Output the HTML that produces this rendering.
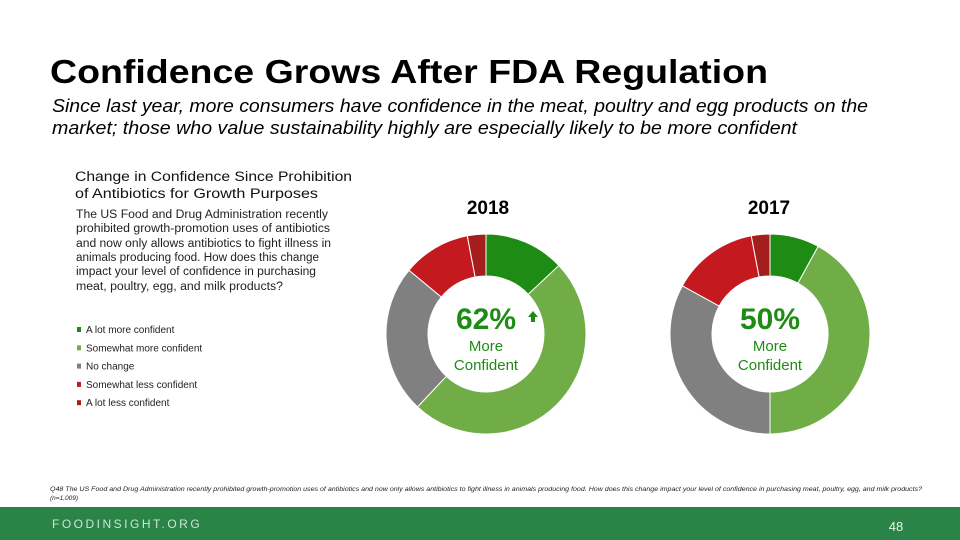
<!DOCTYPE html>
<html><head><meta charset="utf-8"><style>
html,body{margin:0;padding:0;background:#fff}
svg{display:block;font-family:"Liberation Sans",sans-serif}
</style></head><body>
<svg id="chart" width="960" height="540" viewBox="0 0 960 540" xmlns="http://www.w3.org/2000/svg">
<text x="50" y="83" font-size="33" font-weight="bold" fill="#000" textLength="718" lengthAdjust="spacingAndGlyphs">Confidence Grows After FDA Regulation</text>
<text x="52" y="112" font-size="18" font-style="italic" fill="#000" textLength="816" lengthAdjust="spacingAndGlyphs">Since last year, more consumers have confidence in the meat, poultry and egg products on the</text>
<text x="52" y="134" font-size="18" font-style="italic" fill="#000" textLength="745" lengthAdjust="spacingAndGlyphs">market; those who value sustainability highly are especially likely to be more confident</text>

<g>
<text x="75" y="181" font-size="13.5" fill="#111" textLength="277" lengthAdjust="spacingAndGlyphs">Change in Confidence Since Prohibition</text>
<text x="75" y="198" font-size="13.5" fill="#111" textLength="243" lengthAdjust="spacingAndGlyphs">of Antibiotics for Growth Purposes</text>
<g font-size="11.5" fill="#222">
<text x="76" y="218" textLength="252" lengthAdjust="spacingAndGlyphs">The US Food and Drug Administration recently</text>
<text x="76" y="232" textLength="254" lengthAdjust="spacingAndGlyphs">prohibited growth-promotion uses of antibiotics</text>
<text x="76" y="247" textLength="255" lengthAdjust="spacingAndGlyphs">and now only allows antibiotics to fight illness in</text>
<text x="76" y="261" textLength="243" lengthAdjust="spacingAndGlyphs">animals producing food. How does this change</text>
<text x="76" y="275" textLength="240" lengthAdjust="spacingAndGlyphs">impact your level of confidence in purchasing</text>
<text x="76" y="290" textLength="207" lengthAdjust="spacingAndGlyphs">meat, poultry, egg, and milk products?</text>
</g>
</g>
<g id="legend"></g>

<text x="488" y="214" font-size="19" font-weight="bold" text-anchor="middle" fill="#000">2018</text>
<text x="769" y="214" font-size="19" font-weight="bold" text-anchor="middle" fill="#000">2017</text>
<g id="donuts"></g>

<g>
<text x="486" y="329" font-size="30" font-weight="bold" text-anchor="middle" fill="#1e8c14">62%</text>
<path d="M533 311 l-5 6 h3 v5 h4 v-5 h3 z" fill="#1e8c14"/>
<text x="486" y="351" font-size="15" text-anchor="middle" fill="#1e8c14">More</text>
<text x="486" y="370" font-size="15" text-anchor="middle" fill="#1e8c14">Confident</text>
</g>
<g>
<text x="770" y="329" font-size="30" font-weight="bold" text-anchor="middle" fill="#1e8c14">50%</text>
<text x="770" y="351" font-size="15" text-anchor="middle" fill="#1e8c14">More</text>
<text x="770" y="370" font-size="15" text-anchor="middle" fill="#1e8c14">Confident</text>
</g>

<text x="50" y="491" font-size="6.5" font-style="italic" fill="#222" textLength="872" lengthAdjust="spacingAndGlyphs">Q48 The US Food and Drug Administration recently prohibited growth-promotion uses of antibiotics and now only allows antibiotics to fight illness in animals producing food. How does this change impact your level of confidence in purchasing meat, poultry, egg, and milk products?</text>
<text x="50" y="500" font-size="6.5" font-style="italic" fill="#222">(n=1,009)</text>
<rect x="0" y="507" width="960" height="33" fill="#2a8447"/>
<text x="52" y="528" font-size="12" fill="#cfe3d4" letter-spacing="2.5">FOODINSIGHT.ORG</text>
<text x="896" y="531" font-size="13" fill="#e8f2ea" text-anchor="middle">48</text>
</svg>
<script>
const categories = ["A lot more confident","Somewhat more confident","No change","Somewhat less confident","A lot less confident"];
const colors = ["#1e8c14","#70ad47","#808080","#c4191f","#a51e1e"];
const values2018 = [13,49,24,11,3];
const values2017 = [8,42,33,14,3];
const NS="http://www.w3.org/2000/svg";
function pt(cx,cy,r,a){return [cx+r*Math.sin(a),cy-r*Math.cos(a)];}
function drawDonut(vals,cx,cy,name){
  const g=document.getElementById('donuts');
  const tot=vals.reduce((s,v)=>s+v,0);
  const R=100,r=58;let acc=0;
  vals.forEach((v,i)=>{
    const a0=acc/tot*2*Math.PI;acc+=v;const a1=acc/tot*2*Math.PI;
    const lg=(a1-a0)>Math.PI?1:0;
    const [x0,y0]=pt(cx,cy,R,a0),[x1,y1]=pt(cx,cy,R,a1),[x2,y2]=pt(cx,cy,r,a1),[x3,y3]=pt(cx,cy,r,a0);
    const p=document.createElementNS(NS,'path');
    p.setAttribute('d',`M${x0} ${y0}A${R} ${R} 0 ${lg} 1 ${x1} ${y1}L${x2} ${y2}A${r} ${r} 0 ${lg} 0 ${x3} ${y3}Z`);
    p.setAttribute('fill',colors[i]);p.setAttribute('stroke','#fff');p.setAttribute('stroke-width','1');
    
    
    g.appendChild(p);
  });
}
drawDonut(values2018,486,334,'donut-2018');
drawDonut(values2017,770,334,'donut-2017');
const lg=document.getElementById('legend');
categories.forEach((c,i)=>{
  const y=331+i*18.3;
  const m=document.createElementNS(NS,'rect');
  m.setAttribute('x',77);m.setAttribute('y',y-4);m.setAttribute('width',4);m.setAttribute('height',5);m.setAttribute('fill',colors[i]);
  
  
  lg.appendChild(m);
  const t=document.createElementNS(NS,'text');
  t.setAttribute('x',86);t.setAttribute('y',y+2);t.setAttribute('font-size','10');t.setAttribute('fill','#222');
  t.textContent=c;
  
  
  lg.appendChild(t);
});
</script>
</body></html>
